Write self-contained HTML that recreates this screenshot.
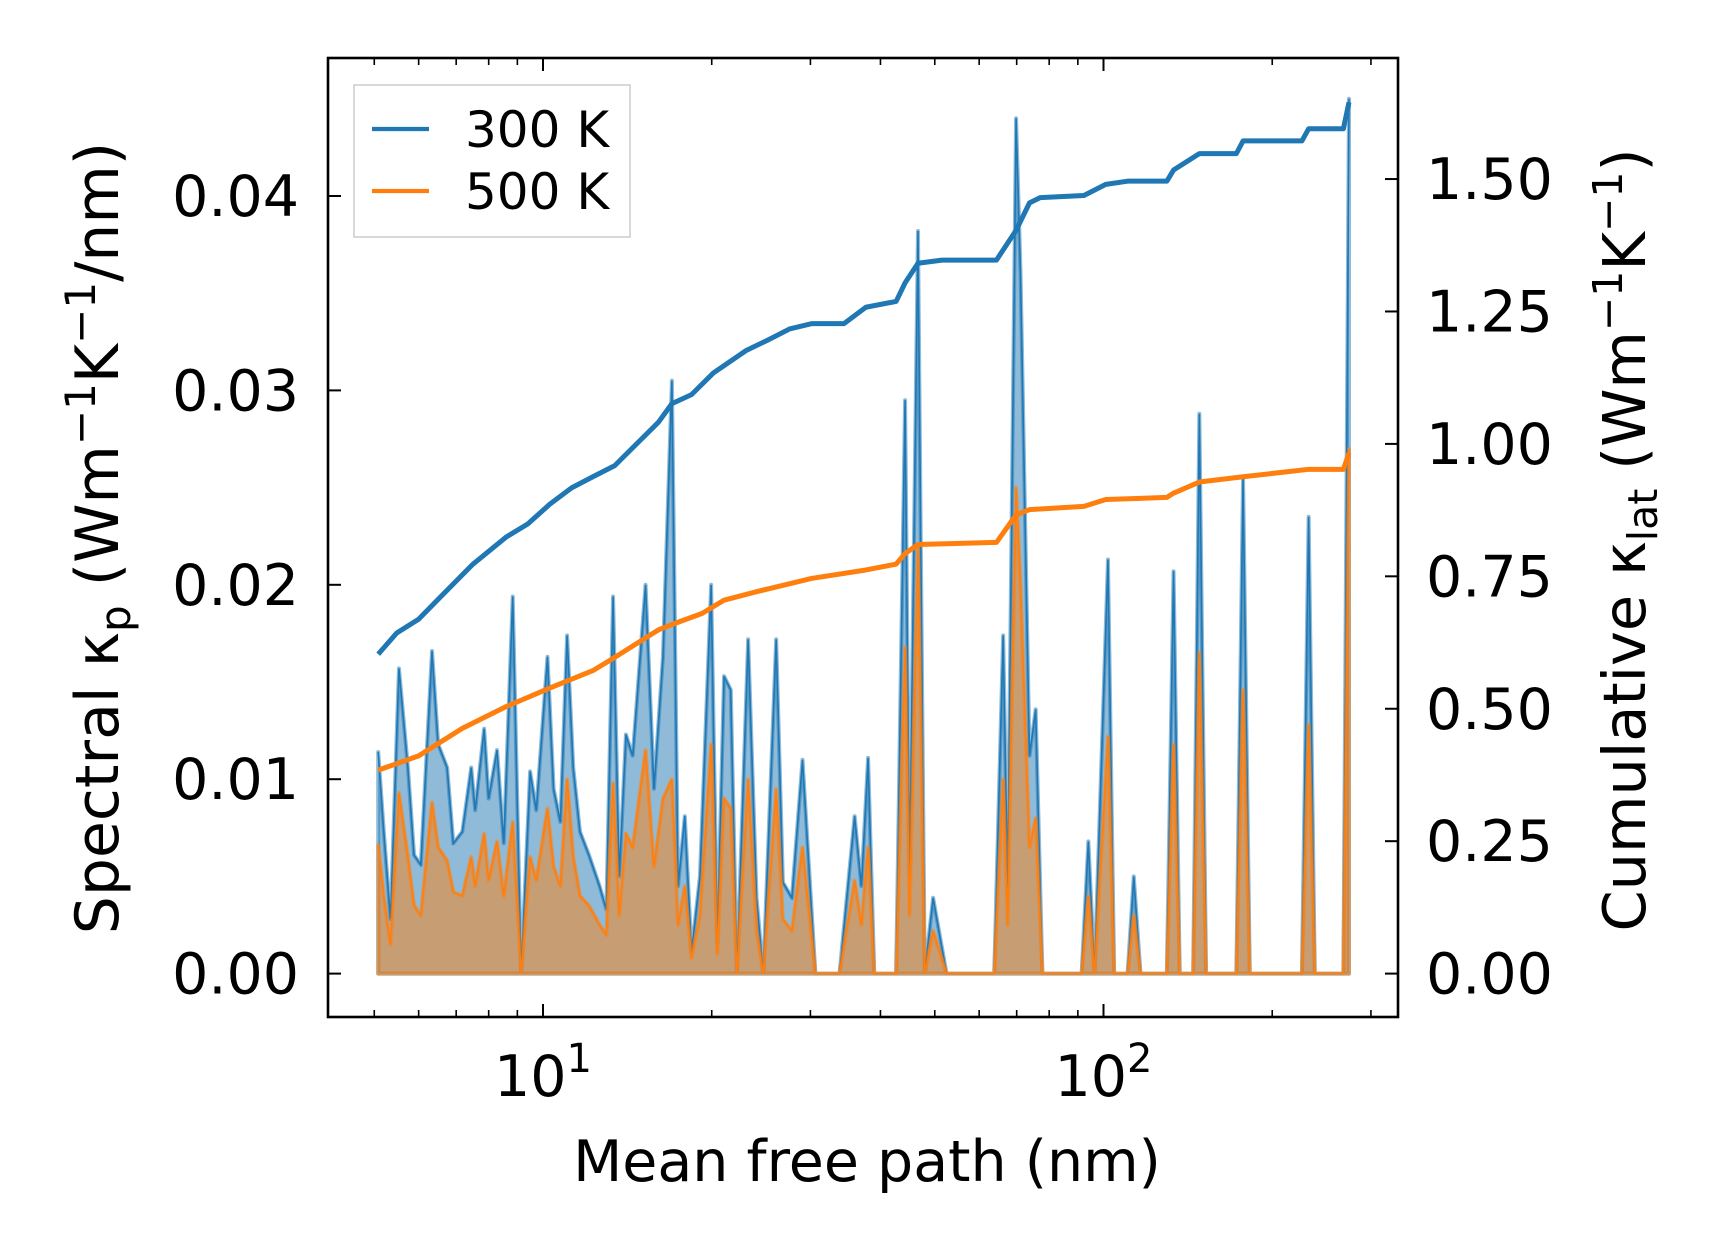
<!DOCTYPE html>
<html><head><meta charset="utf-8"><style>
body{margin:0;background:#fff}
svg text{font-family:"DejaVu Sans","Liberation Sans",sans-serif;fill:#000}
</style></head><body>
<svg id="chart" width="1716" height="1254" viewBox="0 0 1716 1254" xmlns="http://www.w3.org/2000/svg">
<rect width="1716" height="1254" fill="#fff"/>
<g id="marks"></g>
<g id="axes"></g>
</svg>
<script>
const logMfp=[0.706,0.716,0.728,0.743,0.759,0.770,0.782,0.802,0.813,0.829,0.840,0.856,0.872,0.879,0.895,0.903,0.918,0.930,0.946,0.961,0.977,0.988,1.008,1.019,1.031,1.043,1.054,1.066,1.082,1.101,1.113,1.125,1.136,1.148,1.160,1.183,1.198,1.214,1.230,1.241,1.253,1.265,1.280,1.300,1.311,1.323,1.335,1.346,1.366,1.381,1.393,1.416,1.428,1.444,1.463,1.486,1.529,1.556,1.568,1.580,1.591,1.630,1.646,1.654,1.669,1.681,1.696,1.720,1.805,1.821,1.829,1.844,1.852,1.868,1.879,1.891,1.961,1.973,1.984,2.008,2.019,2.043,2.054,2.066,2.113,2.125,2.136,2.160,2.171,2.183,2.237,2.249,2.261,2.354,2.366,2.377,2.428,2.438];
const spec300=[.0114,.0073,.0028,.0157,.0106,.0061,.0056,.0166,.0118,.0106,.0067,.0073,.0106,.0084,.0126,.0090,.0115,.0067,.0194,0,.0104,.0084,.0163,.0095,.0078,.0174,.0106,.0073,.0061,.0045,.0033,.0194,.0050,.0123,.0112,.0200,.0095,.0163,.0305,.0045,.0081,.0011,.0050,.0200,.0016,.0153,.0146,0,.0172,.0039,0,.0172,.0047,.0039,.0110,0,0,.0081,.0045,.0111,0,0,.0295,.0050,.0382,0,.0039,0,0,.0174,.0045,.0440,.0360,.0112,.0136,0,0,.0068,0,.0213,0,0,.0050,0,0,.0207,0,0,.0288,0,0,.0255,0,0,.0235,0,0,.0450];
const spec500=[.0066,.0040,.0015,.0093,.0060,.0035,.0030,.0088,.0065,.0058,.0042,.0040,.0060,.0045,.0072,.0048,.0068,.0040,.0078,0,.0060,.0048,.0085,.0055,.0045,.0100,.0060,.0040,.0035,.0025,.0020,.0098,.0030,.0072,.0065,.0115,.0055,.0090,.0100,.0025,.0045,.0008,.0030,.0118,.0010,.0090,.0085,0,.0100,.0022,0,.0095,.0028,.0022,.0065,0,0,.0048,.0025,.0065,0,0,.0168,.0030,.0220,0,.0022,0,0,.0100,.0025,.0250,.0200,.0065,.0080,0,0,.0040,0,.0122,0,0,.0030,0,0,.0118,0,0,.0165,0,0,.0146,0,0,.0128,0,0,.0270];
const cumLog300=[.706,.739,.778,.817,.875,.934,.973,1.012,1.051,1.089,1.128,1.167,1.206,1.230,1.265,1.304,1.362,1.401,1.440,1.479,1.537,1.576,1.630,1.646,1.669,1.712,1.809,1.844,1.868,1.887,1.965,2.004,2.043,2.113,2.125,2.171,2.237,2.249,2.354,2.366,2.428,2.438];
const cum300=[.603,.643,.669,.711,.773,.824,.849,.886,.917,.938,.959,1.000,1.041,1.076,1.093,1.134,1.176,1.196,1.217,1.227,1.227,1.258,1.269,1.304,1.341,1.347,1.347,1.403,1.455,1.465,1.469,1.490,1.496,1.496,1.517,1.548,1.548,1.572,1.572,1.595,1.595,1.645];
const cumLog500=[.706,.778,.856,.934,1.012,1.089,1.128,1.206,1.230,1.284,1.323,1.381,1.420,1.479,1.576,1.630,1.646,1.669,1.809,1.844,1.868,1.965,2.004,2.113,2.125,2.171,2.249,2.366,2.428,2.438];
const cum500=[.384,.411,.463,.504,.539,.572,.597,.649,.659,.680,.705,.721,.731,.746,.762,.773,.793,.810,.814,.866,.876,.882,.895,.899,.907,.928,.938,.952,.952,.983];
const leftTicks=["0.00","0.01","0.02","0.03","0.04"];
const rightTicks=["0.00","0.25","0.50","0.75","1.00","1.25","1.50"];

const L=328,R=1398,T=58,B=1017;
const X=l=>543+(l-1)*560.5;
const YL=v=>973.6-v*19440;
const YR=v=>973.6-v*529.7;
const NS="http://www.w3.org/2000/svg";
const marks=document.getElementById('marks'),axes=document.getElementById('axes');
function mk(tag,attrs,parent){const e=document.createElementNS(NS,tag);for(const k in attrs)e.setAttribute(k,attrs[k]);parent.appendChild(e);return e;}

function spectral(vals,color,name){
  const n=Math.min(logMfp.length,vals.length);
  let d=`M${X(logMfp[0])},${YL(0)}`;let ln='';
  for(let i=0;i<n;i++){d+=`L${X(logMfp[i])},${YL(vals[i])}`;ln+=(i?'L':'M')+X(logMfp[i])+','+YL(vals[i]);}
  d+=`L${X(logMfp[n-1])},${YL(0)}Z`;
  const f=mk('path',{d:d,fill:color,'fill-opacity':0.5,stroke:color,'stroke-opacity':0.5,'stroke-width':4,'stroke-linejoin':'round'},marks);
  
  
  const l=mk('path',{d:ln,fill:'none',stroke:color,'stroke-width':1.6},marks);
  
  
}
spectral(spec300,'#1f77b4','spectral-300k');
spectral(spec500,'#ff7f0e','spectral-500k');
function cum(xs,vs,color,name){
  const n=Math.min(xs.length,vs.length);let d='';
  for(let i=0;i<n;i++)d+=(i?'L':'M')+X(xs[i])+','+YR(vs[i]);
  const p=mk('path',{d:d,fill:'none',stroke:color,'stroke-width':5,'stroke-linejoin':'round'},marks);
  
  
}
cum(cumLog300,cum300,'#1f77b4','cumulative-300k');
cum(cumLog500,cum500,'#ff7f0e','cumulative-500k');

const fr=mk('rect',{x:L,y:T,width:R-L,height:B-T,fill:'none',stroke:'#000','stroke-width':2.6},axes);


leftTicks.forEach((t,i)=>{const y=YL(i*0.01);
  mk('line',{x1:L,x2:L+13,y1:y,y2:y,stroke:'#000','stroke-width':2},axes);
  const tx=mk('text',{x:L-29,y:y+20,'font-size':57,'text-anchor':'end'},axes);tx.textContent=t;
  
  
});
rightTicks.forEach((t,i)=>{const y=YR(i*0.25);
  mk('line',{x1:R-13,x2:R,y1:y,y2:y,stroke:'#000','stroke-width':2},axes);
  const tx=mk('text',{x:R+28,y:y+20,'font-size':57},axes);tx.textContent=t;
  
  
});
for(let dec=0;dec<=2;dec++){for(let m=1;m<10;m++){const l=dec+Math.log10(m);const x=X(l);
  if(x<L||x>R)continue;const len=m===1?13:7;
  mk('line',{x1:x,x2:x,y1:B,y2:B-len,stroke:'#000','stroke-width':m===1?2:1.6},axes);
  mk('line',{x1:x,x2:x,y1:T,y2:T+len,stroke:'#000','stroke-width':m===1?2:1.6},axes);
  if(m===1){const tx=mk('text',{x:x,y:B+79,'font-size':57,'text-anchor':'middle'},axes);
    tx.innerHTML='10<tspan dy="-24" font-size="40">'+dec+'</tspan>';
    
    }
}}
</script>
<svg style="position:absolute;left:0;top:0" width="1716" height="1254" xmlns="http://www.w3.org/2000/svg">
<text x="867" y="1181" font-size="57" text-anchor="middle">Mean free path (nm)</text>
<text transform="translate(118,538) rotate(-90)" font-size="60" text-anchor="middle">Spectral κ<tspan dy="12" font-size="42">p</tspan><tspan dy="-12"> (Wm</tspan><tspan dy="-23" font-size="42">−1</tspan><tspan dy="23">K</tspan><tspan dy="-23" font-size="42">−1</tspan><tspan dy="23">/nm)</tspan></text>
<text transform="translate(1645,540) rotate(-90)" font-size="59" text-anchor="middle">Cumulative κ<tspan dy="12" font-size="41">lat</tspan><tspan dy="-12"> (Wm</tspan><tspan dy="-23" font-size="41">−1</tspan><tspan dy="23">K</tspan><tspan dy="-23" font-size="41">−1</tspan><tspan dy="23">)</tspan></text>
<g>
<rect x="354" y="85" width="276" height="152" fill="#fff" fill-opacity="0.8" stroke="#ccc" stroke-width="1.5"/>
<line x1="372" x2="429" y1="129" y2="129" stroke="#1f77b4" stroke-width="4.2"/>
<text x="465" y="147" font-size="50">300 K</text>
<line x1="372" x2="429" y1="191" y2="191" stroke="#ff7f0e" stroke-width="4.2"/>
<text x="465" y="209" font-size="50">500 K</text>
</g>
</svg>
</body></html>
